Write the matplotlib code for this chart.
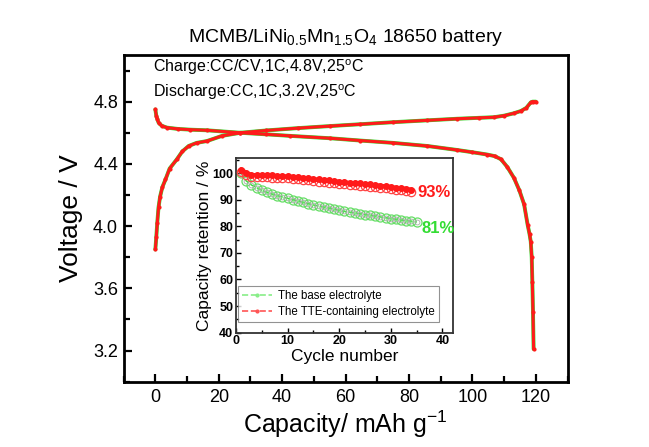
import matplotlib
matplotlib.use("Agg")
import matplotlib.pyplot as plt
from matplotlib.ticker import MultipleLocator

plt.rcParams['font.family'] = ['Liberation Sans', 'DejaVu Sans']
plt.rcParams['mathtext.fontset'] = 'custom'
plt.rcParams['mathtext.rm'] = 'Liberation Sans'

# Charge / discharge profiles (capacity in mAh/g, voltage in V)
charge_cap = [0, 0.3, 0.6, 1.0, 1.5, 2.2, 3.2, 4.5, 6.8, 8.5, 10.5, 13, 16.3, 21, 26.8, 35, 45, 55, 64.7,
              75, 85.8, 95, 102, 106.8, 110, 113, 115.3, 117, 118.4, 119, 120]
charge_volt = [3.85, 3.93, 4.02, 4.12, 4.19, 4.25, 4.30, 4.37, 4.43, 4.48, 4.515, 4.535, 4.547, 4.58, 4.60, 4.615,
               4.63, 4.643, 4.655, 4.668, 4.68, 4.69, 4.696, 4.70, 4.71, 4.725, 4.74, 4.76, 4.795, 4.80, 4.80]

discharge_cap = [0, 0.3, 0.6, 1.0, 2.0, 3.7, 7, 11, 16.3, 26.8, 35, 42.6, 55, 64.7, 75, 85.8, 95, 100,
                 104.7, 107, 109, 111, 113.1, 114.8, 116.3, 117.4, 118.0, 118.4, 118.7, 118.9, 119.1, 119.3]
discharge_volt = [4.75, 4.71, 4.69, 4.666, 4.645, 4.633, 4.625, 4.62, 4.616, 4.60, 4.59, 4.58, 4.565, 4.55,
                  4.535, 4.515, 4.49, 4.475, 4.46, 4.45, 4.43, 4.38, 4.31, 4.23, 4.14, 4.01, 3.95, 3.90,
                  3.80, 3.64, 3.45, 3.21]

# Cycling capacity retention (%)
cycles_base = list(range(1, 36))
retention_base = [100, 97, 95.5, 94.5, 93.5, 92.7, 92.1, 91.5, 91.0, 90.5, 90.0, 89.5, 89.0, 88.5, 88.0,
                  87.6, 87.2, 86.8, 86.4, 86.0, 85.6, 85.3, 85.0, 84.7, 84.4, 84.1, 83.8, 83.5, 83.2,
                  82.9, 82.6, 82.3, 82.1, 81.9, 81.6]
cycles_tte = list(range(1, 35))
retention_tte = [100.5, 99.2, 98.6, 98.5, 98.5, 98.4, 98.3, 98.2, 98.1, 98.0, 97.8, 97.6, 97.4, 97.2,
                 97.0, 96.8, 96.6, 96.4, 96.2, 96.0, 95.8, 95.6, 95.4, 95.3, 95.1, 94.9, 94.7, 94.5,
                 94.3, 94.0, 93.7, 93.5, 93.3, 93.0]

GREEN = '#33dd33'
RED = '#ff1a1a'

fig = plt.figure(figsize=(6.49, 4.47), dpi=100)
ax = fig.add_axes([0.1905, 0.146, 0.684, 0.731])

for cap, volt in ((charge_cap, charge_volt), (discharge_cap, discharge_volt)):
    ax.plot(cap, volt, color=GREEN, lw=2.8, solid_capstyle='round', zorder=2)
    ax.plot(cap, volt, color=RED, lw=2.2, solid_capstyle='round', zorder=3,
            marker='o', ms=2)

ax.set_xlim(-10, 130)
ax.set_ylim(3.0, 5.1)
ax.xaxis.set_major_locator(MultipleLocator(20))
ax.xaxis.set_minor_locator(MultipleLocator(10))
ax.yaxis.set_major_locator(MultipleLocator(0.4))
ax.yaxis.set_minor_locator(MultipleLocator(0.2))
ax.tick_params(which='both', direction='in', width=1.6, labelsize=13)
ax.tick_params(which='major', length=6)
ax.tick_params(which='minor', length=4)
ax.tick_params(axis='x', pad=5)
ax.tick_params(axis='y', pad=4)
for s in ax.spines.values():
    s.set_linewidth(2)
ax.set_xlabel('Capacity/ mAh g$^{-1}$', fontsize=18, labelpad=2)
ax.set_ylabel('Voltage / V', fontsize=19, labelpad=7)
ax.set_title('MCMB/LiNi$_{0.5}$Mn$_{1.5}$O$_{4}$ 18650 battery', fontsize=14, pad=9)

ax.text(0.066, 0.964, 'Charge:CC/CV,1C,4.8V,25$^{\\mathrm{o}}$C', transform=ax.transAxes,
        fontsize=11.5, va='center', ha='left')
ax.text(0.066, 0.887, 'Discharge:CC,1C,3.2V,25$^{\\mathrm{o}}$C', transform=ax.transAxes,
        fontsize=11.5, va='center', ha='left')

# Inset: cycling performance
ins = fig.add_axes([0.3636, 0.2557, 0.334, 0.390])
ins.plot(cycles_base, retention_base, color=GREEN, lw=1, ls='--', marker='o', ms=6.5,
         mfc='none', mec='#66dd66', mew=0.9, zorder=2)
ins.plot(cycles_base, retention_base, color='#999999', lw=0, marker='o', ms=3.5,
         mfc='none', mec='#aaaaaa', mew=0.6, zorder=2)
ins.plot(cycles_tte, retention_tte, color=RED, lw=1, ls='--', marker='o', ms=6,
         mfc='none', mec='#ff4444', mew=0.9, zorder=3)
ins.plot(cycles_tte, [v + 0.8 for v in retention_tte], color=RED, lw=2.5, marker='o', ms=4,
         mfc=RED, mec=RED, zorder=3)

ins.plot([], [], color='#88ee88', ls='--', lw=1.2, marker='.', ms=4, label='The base electrolyte')
ins.plot([], [], color='#ff5555', ls='--', lw=1.2, marker='.', ms=4, label='The TTE-containing electrolyte')
leg = ins.legend(loc='lower left', bbox_to_anchor=(0.01, 0.06), borderaxespad=0, fontsize=8.3,
                 frameon=True, fancybox=False, edgecolor='#777777', handlelength=2.6,
                 borderpad=0.35, labelspacing=0.35, handletextpad=0.5)
leg.get_frame().set_linewidth(0.8)

ins.text(35.1, 92.5, '93%', color=RED, fontsize=12, fontweight='bold', va='center', ha='left')
ins.text(35.9, 79.1, '81%', color=GREEN, fontsize=12, fontweight='bold', va='center', ha='left')

ins.set_xlim(0, 42)
ins.set_ylim(40, 105.5)
ins.xaxis.set_major_locator(MultipleLocator(10))
ins.xaxis.set_minor_locator(MultipleLocator(5))
ins.yaxis.set_major_locator(MultipleLocator(10))
ins.yaxis.set_minor_locator(MultipleLocator(5))
ins.tick_params(which='both', direction='in', width=1, labelsize=9)
ins.tick_params(which='major', length=3.5, pad=2)
ins.tick_params(which='minor', length=2)
for lbl in ins.get_xticklabels() + ins.get_yticklabels():
    lbl.set_fontweight('bold')
for s in ins.spines.values():
    s.set_linewidth(1.3)
    s.set_color('#333333')
ins.set_xlabel('Cycle number', fontsize=12.5, labelpad=1)
ins.set_ylabel('Capacity retention / %', fontsize=12.5, labelpad=0)

fig.savefig('out.png', dpi=100)
